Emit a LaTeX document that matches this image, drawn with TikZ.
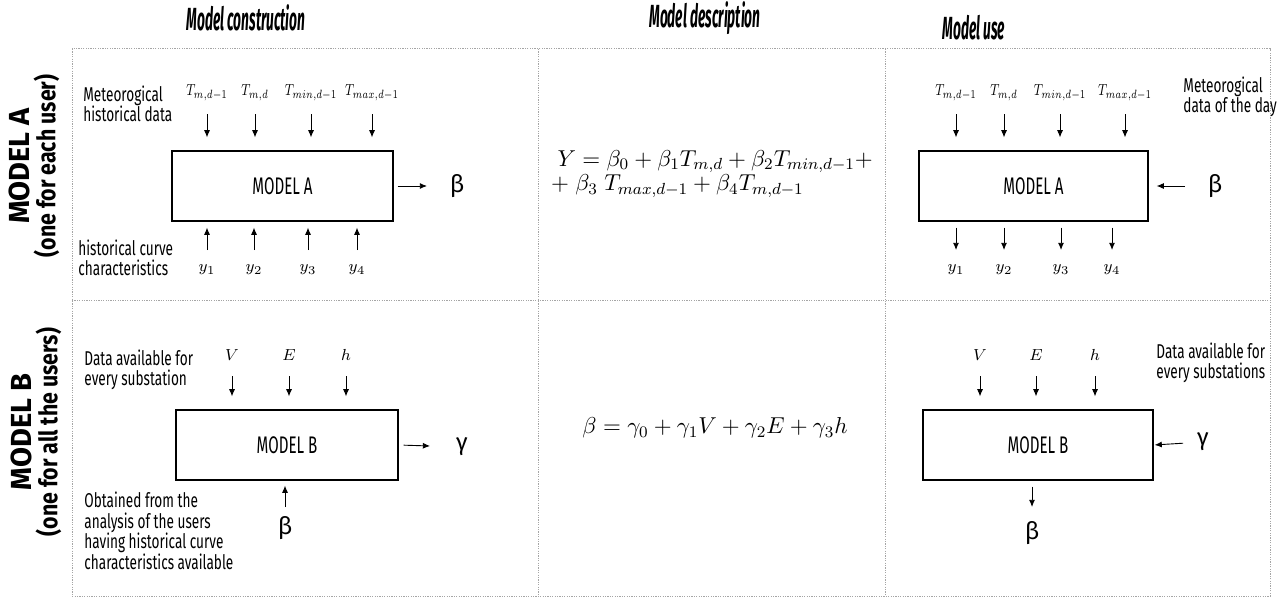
\documentclass[tikz,border=0pt]{standalone}
\usepackage{fix-cm}
\usepackage{amsmath, amssymb}
\usepackage{graphicx}
\usepackage[no-math]{fontspec}
\setmainfont{Fira Sans}
\newfontfamily\headfont[FakeStretch=0.43]{Fira Sans}
\newfontfamily\narrowfont[FakeStretch=0.68]{Fira Sans}
\newfontfamily\boxfont[FakeStretch=0.63]{Fira Sans}
\newfontfamily\rowfont[FakeStretch=0.84]{Fira Sans}
\newcommand{\tvar}[1]{\scalebox{0.75}[1]{$T_{#1}$}}
\usepackage{tikz}
\usetikzlibrary{arrows.meta, calc}
\definecolor{gridgray}{RGB}{165, 165, 165}

\begin{document}
\begin{tikzpicture}[
  x=0.5pt, y=-0.5pt,
  every node/.style={inner sep=0pt},
  head/.style={font={\headfont\bfseries\itshape\fontsize{16}{18}\selectfont}},
  grid/.style={draw=gridgray, line width=0.5pt, dash pattern=on 0.6pt off 0.6pt},
  model/.style={draw, line width=0.6pt, minimum height=35pt, font={\boxfont\fontsize{12}{13}\selectfont}},
  note/.style={anchor=west, align=left, font={\narrowfont\fontsize{10}{10.3}\selectfont}},
  var/.style={font=\fontsize{8}{9}\selectfont},
  sym/.style={font=\fontsize{12}{13}\selectfont},
  eq/.style={align=left, font=\fontsize{11.5}{10}\selectfont},
  rowlab/.style={rotate=90, align=center},
  arrow/.style={-{Latex[length=3.6pt, width=3pt]}, line width=0.45pt},
  downarrow/.style={arrow, shorten <=10.5pt, shorten >=6.5pt},
  uparrow/.style={arrow, shorten <=10pt, shorten >=3pt},
  outarrow/.style={arrow, shorten <=3pt, shorten >=10pt}
]
  \useasboundingbox (0,0) rectangle (1277,599);

  % column titles
  \node[head] (hcon) at (246,18) {Model construction};
  \node[head] (hdes) at (705,18) {Model description};
  \node[head] (huse) at (974,28) {Model use};

  % table grid
  \draw[grid] (72,49) rectangle (1270,596);
  \draw[grid] (72,300) -- (1270,300);
  \draw[grid] (538,49) -- (538,596);
  \draw[grid] (885,49) -- (885,596);

  % row titles
  \node[rowlab] (rowA) at (34,166) {{\bfseries\fontsize{14.5}{14}\selectfont MODEL A}\\[1pt]{\rowfont\bfseries\fontsize{12.7}{14}\selectfont (one for each user)}};
  \node[rowlab] (rowB) at (36,432) {{\bfseries\fontsize{14.5}{14}\selectfont MODEL B}\\[1pt]{\rowfont\bfseries\fontsize{12.7}{14}\selectfont (one for all the users)}};

  % model A, construction
  \node[model, minimum width=110.5pt] (mA1) at (282.5,186) {MODEL A};
  \node[var] (tA1) at (207,93) {\tvar{m,d-1}};
  \node[var] (tA2) at (255,93) {\tvar{m,d}};
  \node[var] (tA3) at (311,93) {\tvar{min,d-1}};
  \node[var] (tA4) at (372,93) {\tvar{max,d-1}};
  \node[var] (yA1) at (207,270) {$y_1$};
  \node[var] (yA2) at (254,270) {$y_2$};
  \node[var] (yA3) at (308,270) {$y_3$};
  \node[var] (yA4) at (357,270) {$y_4$};
  \node[sym] (bA1) at (457,186) {β};
  \node[note] (nA1) at (83,104) {Meteorogical\\historical data};
  \node[note] (nA1b) at (78,258) {historical curve\\characteristics};

  \draw[downarrow] (tA1.center) -- (tA1 |- mA1.north);
  \draw[downarrow] (tA2.center) -- (tA2 |- mA1.north);
  \draw[downarrow] (tA3.center) -- (tA3 |- mA1.north);
  \draw[downarrow] (tA4.center) -- (tA4 |- mA1.north);
  \draw[uparrow] (yA1.center) -- (yA1 |- mA1.south);
  \draw[uparrow] (yA2.center) -- (yA2 |- mA1.south);
  \draw[uparrow] (yA3.center) -- (yA3 |- mA1.south);
  \draw[uparrow] (yA4.center) -- (yA4 |- mA1.south);
  \draw[arrow, shorten <=2pt, shorten >=15pt] (mA1.east) -- (bA1.center);

  % model A, description
  \node[eq] (eqA) at (712,174) {$\;Y = \beta_0 + \beta_1 T_{m,d} + \beta_2 T_{min,d-1} +$\\${+}\;\beta_3\; T_{max,d-1} + \beta_4 T_{m,d-1}$};

  % model A, use
  \node[model, minimum width=114.5pt] (mA2) at (1033.5,186) {MODEL A};
  \node[var] (tA5) at (956,93) {\tvar{m,d-1}};
  \node[var] (tA6) at (1004,93) {\tvar{m,d}};
  \node[var] (tA7) at (1060,93) {\tvar{min,d-1}};
  \node[var] (tA8) at (1125,93) {\tvar{max,d-1}};
  \node[var] (yA5) at (956,270) {$y_1$};
  \node[var] (yA6) at (1004,270) {$y_2$};
  \node[var] (yA7) at (1061,270) {$y_3$};
  \node[var] (yA8) at (1112,270) {$y_4$};
  \node[sym] (bA2) at (1215,186) {β};
  \node[note] (nA2) at (1183,97) {Meteorogical\\data of the day};

  \draw[downarrow] (tA5.center) -- (tA5 |- mA2.north);
  \draw[downarrow] (tA6.center) -- (tA6 |- mA2.north);
  \draw[downarrow] (tA7.center) -- (tA7 |- mA2.north);
  \draw[downarrow] (tA8.center) -- (tA8 |- mA2.north);
  \draw[outarrow] (yA5 |- mA2.south) -- (yA5.center);
  \draw[outarrow] (yA6 |- mA2.south) -- (yA6.center);
  \draw[outarrow] (yA7 |- mA2.south) -- (yA7.center);
  \draw[outarrow] (yA8 |- mA2.south) -- (yA8.center);
  \draw[arrow, shorten <=15pt, shorten >=4pt] (bA2.center) -- (mA2.east);

  % model B, construction
  \node[model, minimum width=111pt] (mB1) at (287,445) {MODEL B};
  \node[var] (vB1) at (232,355) {$V$};
  \node[var] (eB1) at (289,355) {$E$};
  \node[var] (hB1) at (346,355) {$h$};
  \node[sym] (gB1) at (462,447) {γ};
  \node[sym] (bB1) at (285,528) {β};
  \node[note] (nB1) at (84,370) {Data available for\\every substation};
  \node[note] (nB1b) at (84,531) {Obtained from the\\analysis of the users\\having historical curve\\characteristics available};

  \draw[downarrow] (vB1.center) -- (vB1 |- mB1.north);
  \draw[downarrow] (eB1.center) -- (eB1 |- mB1.north);
  \draw[downarrow] (hB1.center) -- (hB1 |- mB1.north);
  \draw[arrow, shorten <=2.5pt, shorten >=16pt] (mB1.east) -- (gB1.center);
  \draw[uparrow, shorten <=10.5pt, shorten >=2.5pt] (bB1.center) -- (bB1 |- mB1.south);

  % model B, description
  \node[eq] (eqB) at (715,428) {$\beta = \gamma_0 + \gamma_1 V + \gamma_2 E + \gamma_3 h$};

  % model B, use
  \node[model, minimum width=115pt] (mB2) at (1038,445) {MODEL B};
  \node[var] (vB2) at (980,355) {$V$};
  \node[var] (eB2) at (1036,355) {$E$};
  \node[var] (hB2) at (1095,355) {$h$};
  \node[sym] (gB2) at (1203,442) {γ};
  \node[sym] (bB2) at (1032,533) {β};
  \node[note] (nB2) at (1156,363) {Data available for\\every substations};

  \draw[downarrow] (vB2.center) -- (vB2 |- mB2.north);
  \draw[downarrow] (eB2.center) -- (eB2 |- mB2.north);
  \draw[downarrow] (hB2.center) -- (hB2 |- mB2.north);
  \draw[arrow, shorten <=10pt, shorten >=0.5pt] (gB2.center) -- (mB2.east);
  \draw[outarrow, shorten >=13pt] (bB2 |- mB2.south) -- (bB2.center);

\end{tikzpicture}
\end{document}
